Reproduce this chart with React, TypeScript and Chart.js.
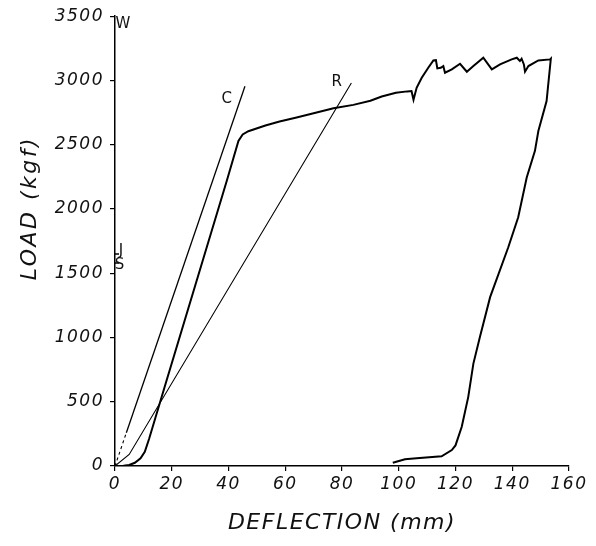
import { useEffect, useRef } from "react";
import { Chart, registerables } from "chart.js";
Chart.register(...registerables);

// Load–deflection test curve (loading, plateau, unloading)
const mainX = [0, 3, 5, 7, 9, 10.5, 12, 18.2, 39.4, 43.5, 45, 47, 53, 58, 64, 70, 77, 84, 90, 94, 99, 103, 104.5, 105.2, 106.3, 108.1, 110.4, 112.2, 113.1, 113.6, 114.8, 115.7, 116.3, 118.7, 121.6, 124, 126.3, 129.8, 132.8, 135.7, 139.8, 141.6, 142.7, 143.3, 144.1, 144.5, 145.7, 149.2, 153.3, 153.6, 152.1, 149.2, 148, 145.1, 142.1, 138.6, 132.2, 128.6, 126.3, 124.5, 122.2, 120, 118.7, 115.1, 106.3, 102.2, 97.9];
const mainY = [0, 2, 8, 25, 60, 110, 210, 667, 2219, 2530, 2580, 2605, 2650, 2680, 2711, 2745, 2784, 2810, 2842, 2875, 2905, 2915, 2918, 2850, 2943, 3021, 3099, 3156, 3158, 3094, 3099, 3112, 3060, 3086, 3130, 3068, 3112, 3177, 3086, 3125, 3164, 3177, 3151, 3169, 3125, 3068, 3112, 3156, 3164, 3170, 2840, 2607, 2452, 2245, 1935, 1702, 1314, 1004, 797, 538, 305, 160, 124, 75, 60, 53, 25];

// Line C (dashed start + solid)
const cDashX = [0, 4];
const cDashY = [0, 259];
const cX = [4, 45.8];
const cY = [259, 2955];

// Line R
const rX = [0, 5, 83.3];
const rY = [0, 90, 2980];

// Markers on the load axis (J, S)
const markX = [0, 0];
const markY = [1650, 1580];

// Text annotations
const noteText = ["C", "R", "W", "J", "S"];
const noteX = [39.4, 78.1, 2.8, 2.1, 1.6];
const noteY = [2855, 2988, 3440, 1676, 1560];

// Axes
const xMin = 0, xMax = 160, xStep = 20;
const yMin = 0, yMax = 3500, yStep = 500;
const xTitle = "DEFLECTION (mm)";
const yTitle = "LOAD (kgf)";

const pts = (xs: number[], ys: number[]) => xs.map((x, i) => ({ x, y: ys[i] }));

export default function App() {
  const ref = useRef<HTMLCanvasElement | null>(null);
  useEffect(() => {
    document.body.style.margin = "0";
    if (!ref.current) return;
    const notePlugin = {
      id: "notes",
      beforeDraw(chart: any) {
        chart.ctx.letterSpacing = "1.5px";
      },
      afterDatasetsDraw(chart: any) {
        chart.ctx.letterSpacing = "1.5px";
      },
      afterDraw(chart: any) {
        const ctx = chart.ctx;
        const xs = chart.scales.x, ys = chart.scales.y;
        const area = chart.chartArea;
        ctx.save();
        ctx.letterSpacing = "0px";
        ctx.fillStyle = "#111";
        ctx.font = "15px 'DejaVu Sans'";
        ctx.textAlign = "center";
        ctx.textBaseline = "middle";
        noteText.forEach((t, i) => {
          ctx.fillText(t, xs.getPixelForValue(noteX[i]), ys.getPixelForValue(noteY[i]));
        });
        // y axis title
        ctx.letterSpacing = "2.5px";
        ctx.font = "italic 22px 'DejaVu Sans'";
        ctx.translate(30, (area.top + area.bottom) / 2 - 33);
        ctx.rotate(-Math.PI / 2);
        ctx.fillText(yTitle, 0, 0);
        ctx.restore();
      },
    };
    const line = (data: any, width: number, dash: number[] = []) => ({
      data,
      showLine: true,
      borderColor: "#000",
      borderWidth: width,
      borderDash: dash,
      pointRadius: 0,
      tension: 0,
      fill: false,
    });
    const tickFont = { family: "'DejaVu Sans'", size: 17, style: "italic" as const };
    const chart = new Chart(ref.current, {
      type: "scatter",
      data: {
        datasets: [
          line(pts(mainX, mainY), 2),
          line(pts(cDashX, cDashY), 1.1, [3, 3]),
          line(pts(cX, cY), 1.3),
          line(pts(rX, rY), 1.1),
          {
            data: pts(markX, markY),
            showLine: false,
            pointStyle: "line",
            pointRadius: 4,
            borderColor: "#000",
            borderWidth: 1.5,
          } as any,
        ],
      },
      options: {
        animation: false,
        responsive: false,
        layout: { padding: { left: 0, right: 27, top: 15, bottom: 0 } },
        plugins: { legend: { display: false }, tooltip: { enabled: false } },
        scales: {
          x: {
            type: "linear",
            min: xMin,
            max: xMax,
            afterFit: (s: any) => { s.height = 80; },
            ticks: {
              stepSize: xStep,
              color: "#111",
              padding: 3,
              z: 1,
              font: tickFont,
              callback: (v: any) => String(v),
            },
            grid: { drawOnChartArea: false, drawTicks: true, tickLength: 5, color: "#000", lineWidth: 1.2 },
            border: { display: true, color: "#000", width: 1.5 },
            title: {
              display: true,
              text: xTitle,
              color: "#111",
              padding: { top: 0, bottom: 10 },
              font: { family: "'DejaVu Sans'", size: 22, style: "italic" },
            },
          },
          y: {
            type: "linear",
            min: yMin,
            max: yMax,
            afterFit: (s: any) => { s.width = 115; },
            ticks: {
              stepSize: yStep,
              color: "#111",
              padding: 6,
              z: 1,
              font: tickFont,
              callback: (v: any) => String(v),
            },
            grid: { drawOnChartArea: false, drawTicks: true, tickLength: 5, color: "#000", lineWidth: 1.2 },
            border: { display: true, color: "#000", width: 1.5 },
            title: { display: false, text: yTitle },
          },
        },
      },
      plugins: [notePlugin],
    });
    return () => chart.destroy();
  }, []);
  return (
    <div style={{ width: 596, height: 546, background: "#fff" }}>
      <canvas ref={ref} width={596} height={546} />
    </div>
  );
}
